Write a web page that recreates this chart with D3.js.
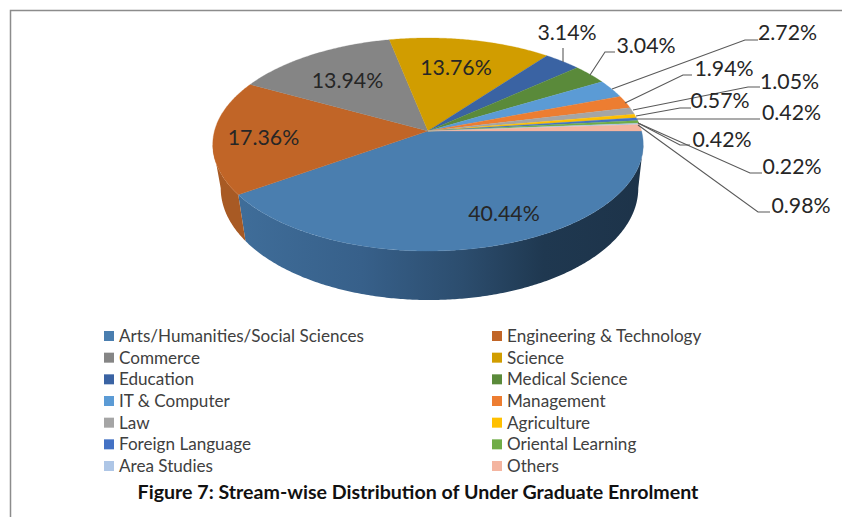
<!DOCTYPE html>
<html><head><meta charset="utf-8">
<script src="https://cdn.jsdelivr.net/npm/d3@7/dist/d3.min.js"></script>
<style>html,body{margin:0;padding:0;background:#fff}svg{display:block}</style>
</head><body><svg id="c" width="842" height="517"></svg>
<script>
const categories=["Arts/Humanities/Social Sciences","Engineering & Technology","Commerce","Science","Education","Medical Science","IT & Computer","Management","Law","Agriculture","Foreign Language","Oriental Learning","Area Studies","Others"];
const values=[40.44,17.36,13.94,13.76,3.14,3.04,2.72,1.94,1.05,0.57,0.42,0.42,0.22,0.98];
const colors=["#4a7eaf","#c16527","#858585","#d19d00","#3a63a3","#5a8a3a","#5b9bd5","#ed7d31","#a5a5a5","#ffc000","#4472c4","#70ad47","#aec6e6","#f4b5a0"];
const sideColors=["#3e6a94","#a85a24","#6f6f6f","#a9810a","#2f5288","#4a7230","#4c82b2","#c5682a","#8a8a8a","#d4a000","#395fa3","#5d903b","#91a6c0","#cc9785"];
const title="Figure 7: Stream-wise Distribution of Under Graduate Enrolment";
const labelPos=[[504,214],[263.5,138],[347.5,81],[456,68],[567,33],[646,46],[787.5,33],[724,69],[789.5,82],[720,101],[791.5,113],[722,140],[792,167],[801,206]];
const leaders=[null,null,null,null,
 [[563,62],[563,48]],
 [[590,75],[605,52],[615,52]],
 [[612,89],[745,40],[758,40]],
 [[625,103],[683,75],[692,75]],
 [[633,110],[748,87],[760,87]],
 [[636,116],[680,108],[691,108]],
 [[637,119],[760,119]],
 [[638,123],[680,145],[690,145]],
 [[638,123],[750,173],[762,173]],
 [[638,125],[758,212],[770,212]]];

const svg=d3.select("#c");
const cx=428,cy=131,Rx=213.5,Ry=104.8,k=0.1268;
const wallDx=1.5,wallDy=43,wallSx=0.97,wallSy=1.05,tangent=Math.asin(k);
function proj(a,dx=0,dy=0,sx=1,sy=1){const x=Math.cos(a),y=Math.sin(a),w=1-k*y;
  return [cx+dx+sx*Rx*x/w, cy+dy+sy*Ry*y/w];}
const pie=d3.pie().sort(null).value(d=>d).startAngle(0).endAngle(2*Math.PI);
const arcs=pie(values);
const line=d3.line();
function edge(a0,a1,dx=0,dy=0,sx=1,sy=1){const n=Math.max(2,Math.ceil((a1-a0)/0.01));
  return d3.range(n+1).map(i=>proj(a0+(a1-a0)*i/n,dx,dy,sx,sy));}

const defs=svg.append("defs");
const g=defs.append("linearGradient").attr("id","wall").attr("gradientUnits","userSpaceOnUse")
 .attr("x1",240).attr("x2",645).attr("y1",0).attr("y2",0);
[[0,"#3f6d99"],[0.3,"#37608a"],[0.55,"#2c4d6e"],[0.75,"#1f3850"],[1,"#1d3349"]].forEach(s=>g.append("stop").attr("offset",s[0]).attr("stop-color",s[1]));

svg.append("path").attr("d","M10.5,517V10.5H842").attr("fill","none").attr("stroke","#8c8c8c").attr("stroke-width",1.5);

arcs.forEach((d,i)=>{
  const a0=Math.max(d.startAngle,tangent),a1=Math.min(d.endAngle,Math.PI-tangent);
  if(a0>=a1) return;
  const top=edge(a0,a1),bot=edge(a0,a1,wallDx,wallDy,wallSx,wallSy).reverse();
  svg.append("path").attr("d",line(top.concat(bot))+"Z")
   .attr("fill",i===0?"url(#wall)":sideColors[i]);
});
arcs.forEach((d,i)=>{
  const pts=[[cx,cy]].concat(edge(d.startAngle,d.endAngle));
  svg.append("path").attr("d",line(pts)+"Z").attr("fill",colors[i]).attr("stroke",colors[i]).attr("stroke-width",0.3);
});
svg.append("g").selectAll("path").data(leaders.filter(Boolean)).join("path")
 .attr("d",d=>line(d)).attr("fill","none").attr("stroke","#595959").attr("stroke-width",1.1);
svg.append("g").selectAll("text").data(values).join("text")
 .attr("x",(d,i)=>labelPos[i][0]).attr("y",(d,i)=>labelPos[i][1]).attr("dy","0.35em")
 .attr("text-anchor","middle").attr("font-family","Lato, 'Open Sans', sans-serif").attr("font-size",21.3)
 .attr("fill","#262626").text(d=>d.toFixed(2)+"%");
const legendX=d3.scalePoint().domain([0,1]).range([104,492]);
const legendY=d3.scalePoint().domain(d3.range(7)).range([336,466]);
const leg=svg.append("g").selectAll("g").data(categories).join("g")
 .attr("transform",(d,i)=>`translate(${legendX(i%2)},${legendY(Math.floor(i/2))})`);
leg.append("rect").attr("x",0).attr("y",-5).attr("width",10).attr("height",10).attr("fill",(d,i)=>colors[i]);
leg.append("text").attr("x",15).attr("dy","0.35em").attr("font-family","Lato, sans-serif").attr("font-size",17.1).attr("fill","#404040").text(d=>d);
svg.append("text").attr("x",418).attr("y",492).attr("dy","0.35em").attr("text-anchor","middle")
 .attr("font-family","Lato, sans-serif").attr("font-weight",700).attr("font-size",19.6).attr("fill","#111").text(title);
</script></body></html>
